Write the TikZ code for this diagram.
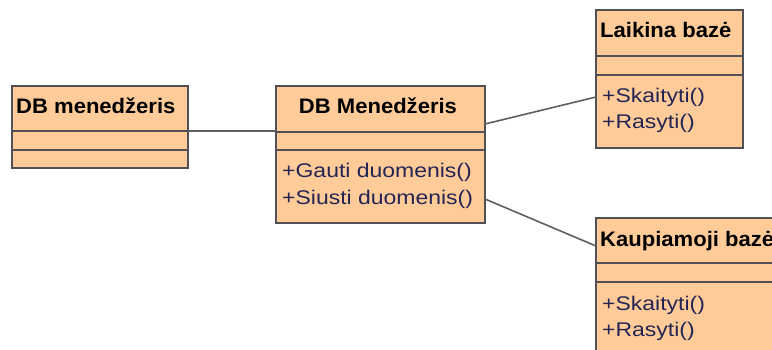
\documentclass[tikz,border=0pt]{standalone}
\usepackage{fontspec}
\setmainfont{Liberation Sans}
\newfontfamily\clsname[FakeStretch=1.05]{Liberation Sans}
\newfontfamily\clsop[FakeStretch=1.16]{Liberation Sans}
\definecolor{umlfill}{RGB}{255,204,153}
\definecolor{umlborder}{RGB}{80,80,86}
\definecolor{umlop}{RGB}{36,36,84}
\definecolor{umllink}{RGB}{95,95,95}
\tikzset{
  umlbox/.style={draw=umlborder, fill=umlfill, line width=1.3pt, inner sep=0pt, outer sep=0pt, anchor=north west},
  umldiv/.style={draw=umlborder, line width=1.3pt},
  clstitle/.style={anchor=base west, inner sep=0pt, font=\clsname\bfseries\fontsize{21}{24}\selectfont, text=black},
  clsmethod/.style={anchor=base west, inner sep=0pt, font=\clsop\fontsize{19.8}{24}\selectfont, text=umlop},
  assoc/.style={draw=umllink, line width=1.6pt}
}
\begin{document}
\begin{tikzpicture}[x=1pt,y=-1pt]
\useasboundingbox (0,0) rectangle (772,349);
\fill[white] (0,0) rectangle (772,349);
\clip (0,0) rectangle (772,349);

% class: DB menedzeris (left)
\node[umlbox, minimum width=176pt, minimum height=82pt] (b1) at (12,86) {};
\draw[umldiv] (12,131) -- (188,131);
\draw[umldiv] (12,150) -- (188,150);
\node[clstitle] (b1t) at (16,113) {DB menedžeris};

% class: DB Menedzeris (centre)
\node[umlbox, minimum width=209pt, minimum height=137pt] (b2) at (276,86) {};
\draw[umldiv] (276,132) -- (485,132);
\draw[umldiv] (276,150) -- (485,150);
\node[clstitle, anchor=base] (b2t) at (378,113) {DB Menedžeris};
\node[clsmethod] (b2m1) at (282,177) {+Gauti duomenis()};
\node[clsmethod] (b2m2) at (282,204) {+Siusti duomenis()};

% class: Laikina baze
\node[umlbox, minimum width=147pt, minimum height=138pt] (b3) at (596,10) {};
\draw[umldiv] (596,56) -- (743,56);
\draw[umldiv] (596,75) -- (743,75);
\node[clstitle] (b3t) at (600,37) {Laikina bazė};
\node[clsmethod] (b3m1) at (602,102) {+Skaityti()};
\node[clsmethod] (b3m2) at (602,128) {+Rasyti()};

% class: Kaupiamoji baze (runs past the right and bottom edges)
\node[umlbox, minimum width=200pt, minimum height=150pt] (b4) at (596,218) {};
\draw[umldiv] (596,263) -- (796,263);
\draw[umldiv] (596,282) -- (796,282);
\node[clstitle] (b4t) at (600,246) {Kaupiamoji bazė};
\node[clsmethod] (b4m1) at (602,310) {+Skaityti()};
\node[clsmethod] (b4m2) at (602,336) {+Rasyti()};

% association end points on the class borders
\coordinate (a1) at (b1.east |- 0,131);
\coordinate (a2) at (b2.west |- 0,131);
\coordinate (c1) at (b2.east |- 0,124);
\coordinate (c2) at (b3.west |- 0,97);
\coordinate (d1) at (b2.east |- 0,199);
\coordinate (d2) at (b4.west |- 0,246);

\draw[assoc] (a1) -- (a2);
\draw[assoc] (c1) -- (c2);
\draw[assoc] (d1) -- (d2);
\end{tikzpicture}
\end{document}
